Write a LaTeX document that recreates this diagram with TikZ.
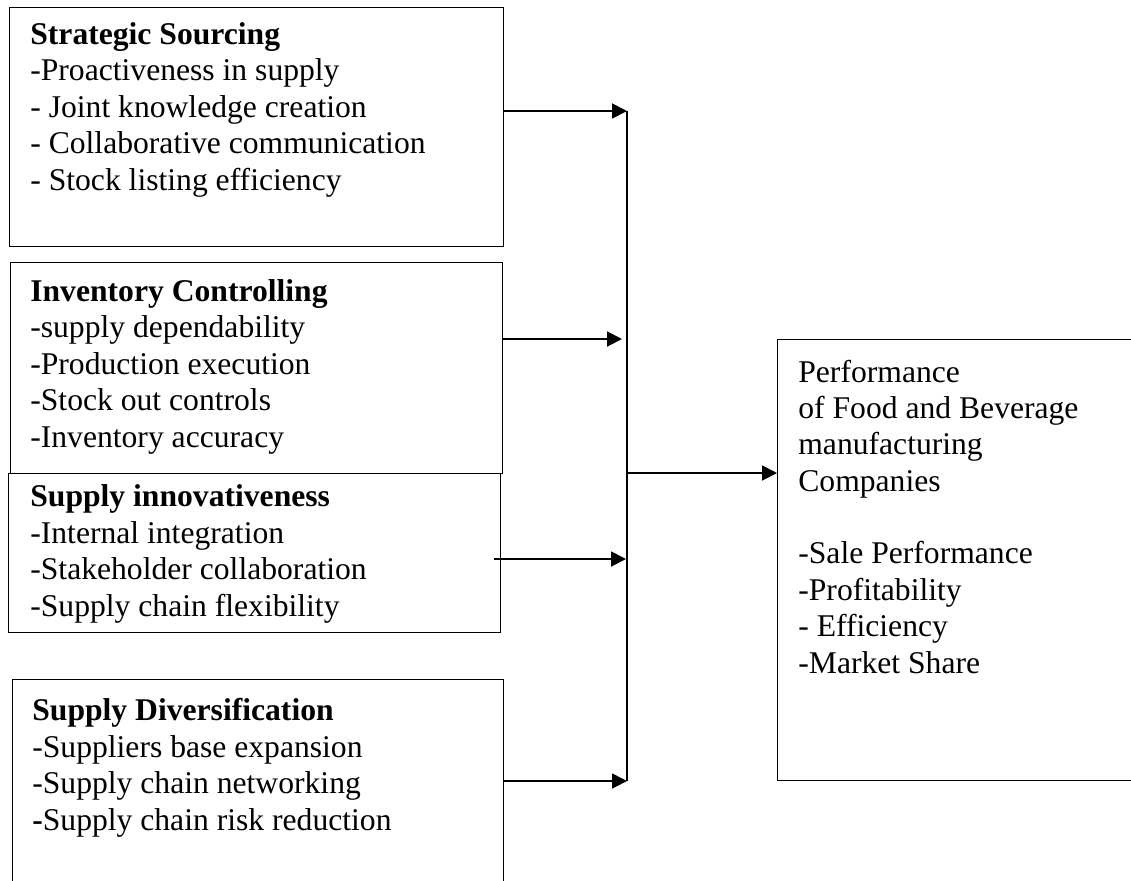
\documentclass[tikz,border=0pt]{standalone}
\usepackage{fontspec}
\setmainfont{Liberation Serif}
\usetikzlibrary{arrows.meta,positioning,calc}

\begin{document}
\begin{tikzpicture}[
  x=0.02cm, y=-0.02cm,
  >={Triangle[length=8.5pt, width=8.5pt]},
  font=\fontsize{18}{20.7}\selectfont,
  box/.style={draw, line width=0.8pt, anchor=north west, inner sep=0pt},
  txt/.style={anchor=base west, align=left, inner sep=0pt}, % base = last line
  arr/.style={->, line width=1.1pt},
  bus/.style={line width=0.9pt},
]
  \useasboundingbox (0,0) rectangle (1131,880);

  % factor boxes
  \node[box, minimum width=9.88cm, minimum height=4.78cm] (ss) at (9,7) {};
  \node[box, minimum width=9.84cm, minimum height=4.22cm] (ic) at (10,262) {};
  \node[box, minimum width=9.84cm, minimum height=3.18cm] (si) at (8,473) {};
  \node[box, minimum width=9.82cm, minimum height=4.22cm] (sd) at (12,679) {};
  % outcome box
  \node[box, minimum width=7.26cm, minimum height=8.82cm] (perf) at (777,339) {};

  \node[txt] (ssT) at (30,190) {\textbf{Strategic Sourcing}\\-Proactiveness in supply\\- Joint knowledge creation\\- Collaborative communication\\- Stock listing efficiency};
  \node[txt] (icT) at (30,447) {\textbf{Inventory Controlling}\\-supply dependability\\-Production execution\\-Stock out controls\\-Inventory accuracy};
  \node[txt] (siT) at (30,616) {\textbf{Supply innovativeness}\\-Internal integration\\-Stakeholder collaboration\\-Supply chain flexibility};
  \node[txt] (sdT) at (32,830) {\textbf{Supply Diversification}\\-Suppliers base expansion\\-Supply chain networking\\\textbf{-}Supply chain risk reduction};
  \node[txt] (perfT) at (798,673) {Performance\\of Food and Beverage\\manufacturing\\Companies\\[20.7pt]-Sale Performance\\-Profitability\\- Efficiency\\-Market Share};

  % collecting line and arrows
  \coordinate (busTop) at (627,111);
  \coordinate (busBot) at (627,781);
  \coordinate (j2) at (622,339);
  \coordinate (j3) at (626,559);
  \coordinate (jMid) at (627,473);
  \draw[bus] (busTop) -- (busBot);
  \draw[arr] (ss.east |- busTop) -- (busTop);
  \draw[arr] (ic.east |- j2) -- (j2);
  \draw[arr] ($(si.east |- j3)+(-7,0)$) -- (j3);
  \draw[arr] (sd.east |- busBot) -- (busBot);
  \draw[arr] (jMid) -- (perf.west |- jMid);
\end{tikzpicture}
\end{document}
